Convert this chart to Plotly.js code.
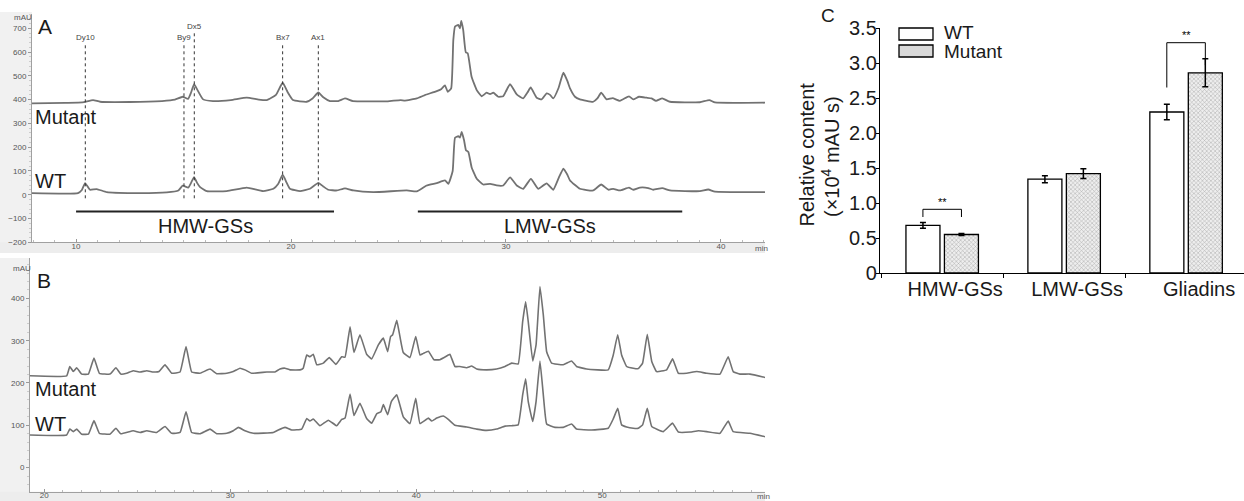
<!DOCTYPE html>
<html>
<head>
<meta charset="utf-8">
<script src="https://cdn.plot.ly/plotly-3.0.1.min.js"></script>
<style>html,body{margin:0;padding:0;background:#fff;}#chart{width:1244px;height:501px;}</style>
</head>
<body>
<div id="chart"></div>
<script>
// ---------- Panel A (HMW/LMW-GS chromatograms) ----------
const aMutT = [7.95,9.5,10.3,10.79,11.12,12.5,14.0,14.6,14.96,15.21,15.35,15.49,15.65,15.91,16.37,17.2,17.94,18.5,18.87,19.3,19.61,19.85,20.09,20.73,21.0,21.27,21.5,21.81,22.2,22.51,22.88,23.81,24.5,25.1,25.3,25.85,26.23,26.78,27.0,27.16,27.29,27.45,27.55,27.63,27.78,27.86,27.92,28.01,28.13,28.22,28.40,28.64,28.87,29.10,29.26,29.41,29.64,29.87,30.0,30.19,30.50,30.80,31.0,31.15,31.43,31.66,31.89,32.05,32.20,32.45,32.67,32.85,32.98,33.21,33.44,34.06,34.25,34.43,34.68,34.96,35.30,35.72,35.92,36.19,36.54,36.77,36.98,37.27,37.63,39.02,39.46,39.72,42.05];
const aMutV = [384,386,388,398,391,390,394,400,412,403,430,465,440,401,394,398,408,400,398,420,471,430,398,391,405,430,410,394,394,405,394,393,393,398,396,405,419,436,445,460,433,447,650,707,714,700,731,693,599,595,496,440,414,429,423,429,412,414,435,465,422,405,430,451,408,401,426,420,405,450,513,480,447,412,401,391,405,429,401,406,395,414,401,412,408,405,395,405,391,389,398,388,387];
const aWtT = [7.95,10.09,10.27,10.42,10.57,10.65,10.96,11.43,12.65,14.22,14.76,14.96,15.22,15.35,15.49,15.63,15.77,16.08,17.01,17.94,18.70,19.18,19.4,19.61,19.8,19.95,20.42,20.88,21.27,21.5,21.73,22.13,22.51,22.90,23.83,25.38,25.85,26.31,26.78,27.16,27.32,27.52,27.63,27.78,27.86,27.94,28.05,28.14,28.25,28.40,28.64,28.94,29.26,29.57,29.87,30.19,30.50,30.80,31.16,31.50,31.89,32.20,32.45,32.67,32.85,32.98,33.44,34.06,34.43,34.76,34.99,35.30,35.72,35.92,36.23,36.62,36.85,37.27,37.63,39.02,39.41,39.72,42.05];
const aWtV = [7,7,20,49,30,21,24,11,7,10,18,38,30,50,74,50,32,15,15,30,15,25,45,84,50,25,15,25,50,35,21,18,27,18,11,18,14,39,49,60,46,100,240,246,240,264,229,187,180,116,67,43,46,39,39,73,39,25,67,25,48,21,70,110,85,60,25,18,43,21,25,18,30,21,30,28,21,28,18,15,22,13,11];
const aXTicks = [10,20,30,40];
const aYTicks = [-200,-100,0,100,200,300,400,500,600,700];
const markerNames = ['Dy10','By9','Dx5','Bx7','Ax1'];
const markerTimes = [10.43,15.02,15.5,19.61,21.27];
const regionNames = ['HMW-GSs','LMW-GSs'];
const regionStart = [10.0,25.9];
const regionEnd = [22.0,38.2];

// ---------- Panel B (gliadin chromatograms) ----------
const bMutT = [19.23,21.20,21.37,21.56,21.74,22.01,22.37,22.67,22.96,23.53,23.85,24.11,24.43,24.78,25.15,25.51,25.86,26.17,26.49,26.85,27.30,27.62,27.92,28.37,28.91,29.27,29.81,30.16,30.34,30.52,30.79,31.15,31.96,32.40,32.67,32.94,33.21,33.75,33.92,34.11,34.28,34.46,34.65,35.00,35.32,35.68,35.99,36.17,36.44,36.65,36.97,37.33,37.60,37.96,38.23,38.46,38.62,38.73,38.95,39.12,39.30,39.66,39.97,40.20,40.38,40.65,40.95,41.27,41.72,41.81,42.08,42.35,42.71,42.98,43.25,43.78,44.32,44.77,45.13,45.48,45.72,45.88,46.02,46.26,46.44,46.65,46.83,47.01,47.28,47.90,48.35,48.62,49.16,50.32,50.59,50.83,51.04,51.31,51.67,51.94,52.17,52.42,52.66,52.92,53.46,53.78,54.09,54.54,55.08,55.61,56.33,56.77,57.04,57.40,57.94,58.75];
const bMutV = [217,217,239,227,236,221,221,259,223,221,236,221,223,229,226,229,226,227,243,223,226,286,226,223,233,222,223,227,231,235,231,223,226,226,233,235,231,231,235,266,262,268,243,247,260,244,262,261,333,272,314,268,257,290,306,274,310,314,348,310,272,260,310,266,270,275,255,255,266,268,239,239,236,240,233,231,233,239,247,245,345,392,345,252,290,428,361,274,247,243,252,239,233,231,266,314,266,239,235,234,247,315,251,227,231,257,223,223,227,223,221,262,227,221,221,213];
const bWtT = [19.23,21.20,21.37,21.56,21.74,22.01,22.37,22.67,22.96,23.53,23.85,24.11,24.78,25.15,25.51,26.04,26.49,26.85,27.30,27.62,27.92,28.37,28.91,29.27,29.81,30.16,30.43,30.79,31.24,32.31,32.58,32.94,33.30,33.84,34.11,34.28,34.46,34.82,35.27,35.72,35.99,36.17,36.44,36.65,36.97,37.33,37.60,37.87,38.10,38.23,38.46,38.66,38.95,39.30,39.66,39.97,40.20,40.65,40.83,41.10,41.45,41.72,42.08,42.71,43.25,43.78,44.32,44.77,45.13,45.48,45.72,45.88,46.02,46.26,46.44,46.65,46.83,47.01,47.46,47.90,48.35,48.62,49.43,50.32,50.59,50.83,51.04,51.31,51.67,51.94,52.17,52.42,52.66,53.28,53.78,54.09,54.72,55.17,55.61,56.33,56.77,57.04,57.94,58.75];
const bWtV = [77,77,91,85,91,79,79,111,81,79,93,80,87,83,87,83,97,81,83,132,83,80,91,80,81,87,95,87,81,83,89,95,89,91,116,110,115,99,112,99,114,117,174,123,152,116,105,127,132,149,125,156,172,120,104,164,104,117,110,117,122,114,100,96,91,88,91,98,99,101,172,210,156,109,156,252,172,103,95,95,103,91,89,93,115,140,101,96,93,93,101,140,97,85,105,84,84,87,85,81,110,85,81,73];
const bXTicks = [20,30,40,50];
const bYTicks = [0,100,200,300,400];

// ---------- Panel C (bar chart) ----------
const cCategories = ['HMW-GSs','LMW-GSs','Gliadins'];
const cWT = [0.68,1.34,2.30];
const cWTErr = [0.04,0.05,0.11];
const cMutant = [0.55,1.42,2.86];
const cMutantErr = [0.015,0.07,0.20];
const cSignificant = ['**','','**'];
const cYTickVals = [0,0.5,1.0,1.5,2.0,2.5,3.0,3.5];
const cYTickText = ['0','0.5','1.0','1.5','2.0','2.5','3.0','3.5'];

// ---------- helpers ----------
const W = 1244, H = 501;
const px = x => x / W;
const py = y => 1 - y / H;
const FONT = 'Arial, "Liberation Sans", sans-serif';
const lineCol = '#727272';

const traces = [
  {x:aMutT, y:aMutV, xaxis:'x', yaxis:'y', type:'scatter', mode:'lines', line:{color:lineCol, width:1.8, shape:'spline', smoothing:0.4}, hoverinfo:'skip'},
  {x:aWtT, y:aWtV, xaxis:'x', yaxis:'y', type:'scatter', mode:'lines', line:{color:lineCol, width:1.8, shape:'spline', smoothing:0.4}, hoverinfo:'skip'},
  {x:bMutT, y:bMutV, xaxis:'x2', yaxis:'y2', type:'scatter', mode:'lines', line:{color:lineCol, width:1.6, shape:'spline', smoothing:0.3}, hoverinfo:'skip'},
  {x:bWtT, y:bWtV, xaxis:'x2', yaxis:'y2', type:'scatter', mode:'lines', line:{color:lineCol, width:1.6, shape:'spline', smoothing:0.3}, hoverinfo:'skip'},
  {x:cCategories, y:cWT, name:'WT', xaxis:'x3', yaxis:'y3', type:'bar',
   marker:{color:'white', line:{color:'black', width:1.3}},
   error_y:{type:'data', array:cWTErr, visible:true, color:'black', thickness:1.5, width:3}},
  {x:cCategories, y:cMutant, name:'Mutant', xaxis:'x3', yaxis:'y3', type:'bar',
   marker:{color:'white', line:{color:'black', width:1.3},
     pattern:{shape:'x', size:3, solidity:0.3, fgcolor:'#a8a8a8', bgcolor:'#eeeeee'}},
   error_y:{type:'data', array:cMutantErr, visible:true, color:'black', thickness:1.5, width:3}}
];

const chromAxisX = {
  showgrid:false, zeroline:false, showline:true, linecolor:'#a0a0a0', linewidth:1,
  ticks:'inside', ticklen:3, tickcolor:'#999', tickfont:{size:8, color:'#555', family:FONT},
  ticklabelstandoff:-4,
  minor:{dtick:1, ticks:'inside', ticklen:2, tickcolor:'#bbb'}, fixedrange:true
};
const chromAxisY = {
  showgrid:false, zeroline:false, showline:true, linecolor:'#a0a0a0', linewidth:1,
  ticks:'outside', ticklen:3, tickcolor:'#999', tickfont:{size:8, color:'#555', family:FONT},
  minor:{dtick:20, ticks:'outside', ticklen:2, tickcolor:'#ccc'}, fixedrange:true
};

const shapes = [
  // grey axis strips (panel A & B)
  {type:'rect', xref:'paper', yref:'paper', x0:px(0), x1:px(32), y0:py(253), y1:py(12), fillcolor:'#f1f1f1', line:{width:0}, layer:'below'},
  {type:'rect', xref:'paper', yref:'paper', x0:px(0), x1:px(765), y0:py(253), y1:py(242.3), fillcolor:'#ededed', line:{width:0}, layer:'below'},
  {type:'rect', xref:'paper', yref:'paper', x0:px(0), x1:px(30), y0:py(501), y1:py(258), fillcolor:'#f1f1f1', line:{width:0}, layer:'below'},
  {type:'rect', xref:'paper', yref:'paper', x0:px(0), x1:px(765), y0:py(501), y1:py(491.7), fillcolor:'#ededed', line:{width:0}, layer:'below'},
  // manual legend swatches (panel C)
  {type:'rect', xref:'paper', yref:'paper', x0:px(899), x1:px(933), y0:py(40), y1:py(28), fillcolor:'white', line:{color:'black', width:1.3}},
  {type:'rect', xref:'paper', yref:'paper', x0:px(899), x1:px(933), y0:py(57), y1:py(45), fillcolor:'#d9d9d9', line:{color:'black', width:1.3}}
];

const annotations = [];
function paperText(text, x, y, size, anchor, color) {
  annotations.push({xref:'paper', yref:'paper', x:px(x), y:py(y), text:text, showarrow:false,
    xanchor:anchor || 'left', yanchor:'middle', font:{size:size, color:color || '#1a1a1a', family:FONT}});
}

// marker dashed lines (panel A)
markerNames.forEach((n, i) => {
  const top = n === 'Dx5' ? 682 : 636;
  const labY = n === 'Dx5' ? 706 : 661;
  shapes.push({type:'line', xref:'x', yref:'y', x0:markerTimes[i], x1:markerTimes[i], y0:-15, y1:top,
    line:{color:'#333', width:1, dash:'dot'}});
  annotations.push({xref:'x', yref:'y', x:markerTimes[i], y:labY, text:n, showarrow:false,
    xanchor:'center', yanchor:'middle', font:{size:8, color:'#444', family:FONT}});
});
// region bars (panel A)
regionNames.forEach((n, i) => {
  shapes.push({type:'line', xref:'x', yref:'y', x0:regionStart[i], x1:regionEnd[i], y0:-70, y1:-70,
    line:{color:'#222', width:2}});
  annotations.push({xref:'x', yref:'y', x:(regionStart[i] + regionEnd[i]) / 2, y:-133, text:n, showarrow:false,
    xanchor:'center', yanchor:'middle', font:{size:20, color:'#1a1a1a', family:FONT}});
});

// significance brackets (panel C)
const half = 0.158;
cSignificant.forEach((s, i) => {
  if (!s) return;
  const wTop = cWT[i] + cWTErr[i], mTop = cMutant[i] + cMutantErr[i];
  const top = Math.max(wTop, mTop) + (i === 0 ? 0.19 : 0.23);
  const leftEnd = i === 0 ? top - 0.11 : wTop + 0.24;
  const rightEnd = i === 0 ? top - 0.11 : mTop - 0.09;
  shapes.push({type:'path', xref:'x3', yref:'y3',
    path:`M ${i - half},${leftEnd} L ${i - half},${top} L ${i + half},${top} L ${i + half},${rightEnd}`,
    line:{color:'black', width:1}});
  annotations.push({xref:'x3', yref:'y3', x:i, y:top + 0.11, text:s, showarrow:false,
    xanchor:'center', yanchor:'middle', font:{size:11, color:'black', family:FONT}});
});

// panel letters & labels
paperText('A', 36, 27, 21);
paperText('B', 35, 280, 21);
paperText('C', 819, 15, 19);
paperText('Mutant', 33, 117, 20);
paperText('WT', 33, 181, 20);
paperText('Mutant', 33, 389, 20);
paperText('WT', 33, 424, 20);
paperText('mAU', 12, 18, 8, 'left', '#555');
paperText('mAU', 11, 268, 8, 'left', '#555');
paperText('min', 753, 248, 8, 'left', '#555');
paperText('min', 755, 496, 8, 'left', '#555');
paperText('WT', 942, 33, 19);
paperText('Mutant', 942, 51, 19);
annotations.push({xref:'paper', yref:'paper', x:px(806.5), y:py(155), text:'Relative content', textangle:-90,
  showarrow:false, xanchor:'center', yanchor:'middle', font:{size:20, color:'#1a1a1a', family:FONT}});
annotations.push({xref:'paper', yref:'paper', x:px(830), y:py(157), text:'(×10<sup>4</sup> mAU s)', textangle:-90,
  showarrow:false, xanchor:'center', yanchor:'middle', font:{size:20, color:'#1a1a1a', family:FONT}});

const layout = {
  width:W, height:H, margin:{l:0, r:0, t:0, b:0},
  paper_bgcolor:'white', plot_bgcolor:'rgba(0,0,0,0)', showlegend:false,
  font:{family:FONT},
  xaxis:Object.assign({}, chromAxisX, {domain:[px(32), px(765)], range:[7.95, 42.05], anchor:'y', tickvals:aXTicks}),
  yaxis:Object.assign({}, chromAxisY, {domain:[py(242.3), py(14)], range:[-200, 760], anchor:'x', tickvals:aYTicks}),
  xaxis2:Object.assign({}, chromAxisX, {domain:[px(30), px(765)], range:[19.23, 58.75], anchor:'y2', tickvals:bXTicks}),
  yaxis2:Object.assign({}, chromAxisY, {domain:[py(491.7), py(258.2)], range:[-57, 495], anchor:'x2', tickvals:bYTicks}),
  xaxis3:{domain:[px(880), 1], range:[-0.51, 2.475], anchor:'y3', type:'category', showgrid:false, zeroline:false,
    showline:true, linecolor:'black', linewidth:1.2, ticks:'outside', tickson:'boundaries', ticklen:4, tickcolor:'black',
    tickfont:{size:20, color:'#1a1a1a', family:FONT}, ticklabelshift:13, ticklabelstandoff:-2, fixedrange:true},
  yaxis3:{domain:[py(273), py(28)], range:[0, 3.5], anchor:'x3', showgrid:false, zeroline:false,
    showline:true, linecolor:'black', linewidth:1.2, ticks:'outside', ticklen:3, tickcolor:'black',
    tickvals:cYTickVals, ticktext:cYTickText, tickfont:{size:20, color:'#1a1a1a', family:FONT},
    ticklabelstandoff:-5, fixedrange:true},
  barmode:'group', bargap:0.369, bargroupgap:0.116,
  shapes:shapes, annotations:annotations
};

Plotly.newPlot('chart', traces, layout, {displayModeBar:false, staticPlot:true});
</script>
</body>
</html>
